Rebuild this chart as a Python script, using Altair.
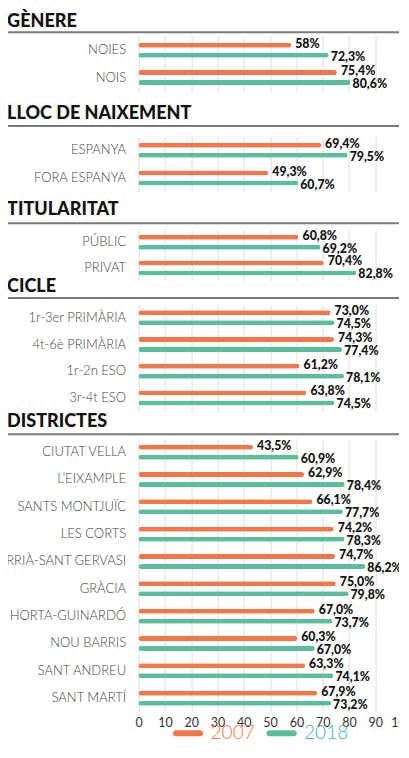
import altair as alt
import pandas as pd

ORANGE = "#F2784B"
GREEN = "#5BBE9B"
LEG_GREEN = "#3FB3A0"

years = ["2007", "2018"]
x_ticks = list(range(0, 101, 10))

sec_titles = ["GÈNERE", "LLOC DE NAIXEMENT", "TITULARITAT", "CICLE", "DISTRICTES"]

genere_cats = ["NOIES", "NOIS"]
genere_2007 = [58.0, 75.4]
genere_2018 = [72.3, 80.6]

lloc_cats = ["ESPANYA", "FORA ESPANYA"]
lloc_2007 = [69.4, 49.3]
lloc_2018 = [79.5, 60.7]

tit_cats = ["PÚBLIC", "PRIVAT"]
tit_2007 = [60.8, 70.4]
tit_2018 = [69.2, 82.8]

cicle_cats = ["1r-3er PRIMÀRIA", "4t-6è PRIMÀRIA", "1r-2n ESO", "3r-4t ESO"]
cicle_2007 = [73.0, 74.3, 61.2, 63.8]
cicle_2018 = [74.5, 77.4, 78.1, 74.5]

dist_cats = ["CIUTAT VELLA", "L’EIXAMPLE", "SANTS MONTJUÏC", "LES CORTS",
             "SARRIÀ-SANT GERVASI", "GRÀCIA", "HORTA-GUINARDÓ", "NOU BARRIS",
             "SANT ANDREU", "SANT MARTÍ"]
dist_2007 = [43.5, 62.9, 66.1, 74.2, 74.7, 75.0, 67.0, 60.3, 63.3, 67.9]
dist_2018 = [60.9, 78.4, 77.7, 78.3, 86.2, 79.8, 73.7, 67.0, 74.1, 73.2]

# label written without decimals in the original
label_overrides = {("NOIES", "2007"): "58%"}


def fmt(cat, year, v):
    if (cat, year) in label_overrides:
        return label_overrides[(cat, year)]
    return f"{v:.1f}".replace(".", ",") + "%"


color_scale = alt.Scale(domain=years, range=[ORANGE, GREEN])
legend = alt.Legend(
    title=None, orient="none", direction="horizontal",
    legendX=34, legendY=681,
    symbolType="M-0.8,-0.2L0.8,-0.2A0.2,0.2 0 0 1 0.8,0.2L-0.8,0.2A0.2,0.2 0 0 1 -0.8,-0.2Z",
    symbolSize=925, symbolStrokeWidth=0, symbolOpacity=1,
    labelFont="Lato", labelFontSize=19, labelFontWeight=300,
    labelColor=alt.ExprRef("datum.label == '2007' ? '%s' : '%s'" % (ORANGE, LEG_GREEN)),
    labelOffset=7, columnPadding=10.5, padding=0,
)


def panel(title, cats, v07, v18, step, rule_gap, title_off, extra_below, show_axis):
    rows = []
    for c, a, b in zip(cats, v07, v18):
        rows.append({"cat": c, "year": "2007", "v": a, "lab": fmt(c, "2007", a)})
        rows.append({"cat": c, "year": "2018", "v": b, "lab": fmt(c, "2018", b)})
    df = pd.DataFrame(rows)
    n = len(cats)
    H = n * step
    pi = 1 - 20.0 / step
    yscale = alt.Scale(domain=cats, paddingInner=pi, paddingOuter=pi / 2)
    xscale = alt.Scale(domain=[0, 100], nice=False)
    yaxis = alt.Axis(title=None, ticks=False, domain=False, labelPadding=13,
                     labelFont="Lato", labelFontSize=13, labelFontWeight=300,
                     labelColor="#444444", labelLimit=300)
    if show_axis:
        xaxis = alt.Axis(values=x_ticks, title=None, ticks=False, domain=False,
                         grid=True, gridColor="#dddddd", labelFont="Lato",
                         labelFontSize=12.5, labelColor="#333333", labelPadding=5,
                         labelFlush=False, labelOverlap=False, labelSeparation=0)
    else:
        xaxis = alt.Axis(values=x_ticks, title=None, ticks=False, domain=False,
                         labels=False, grid=True, gridColor="#dddddd")
    yoff = alt.YOffset("year:N", scale=alt.Scale(domain=years, paddingInner=0, paddingOuter=0))
    base = alt.Chart(df)
    bars = base.mark_bar(size=5, cornerRadius=2.5).encode(
        x=alt.X("v:Q", scale=xscale, axis=xaxis),
        y=alt.Y("cat:N", scale=yscale, sort=cats, axis=yaxis),
        yOffset=yoff,
        color=alt.Color("year:N", scale=color_scale, legend=legend),
    )
    txt_kw = dict(align="left", baseline="middle", font="Lato", fontWeight=900,
                  fontSize=12.3, color="#111111")
    t07 = base.transform_filter("datum.year == '2007'").mark_text(dx=4, dy=-1.5, **txt_kw).encode(
        x=alt.X("v:Q", axis=xaxis), y=alt.Y("cat:N", sort=cats), yOffset=yoff, text="lab:N")
    t18 = base.transform_filter("datum.year == '2018'").mark_text(dx=2, dy=1.5, **txt_kw).encode(
        x=alt.X("v:Q", axis=xaxis), y=alt.Y("cat:N", sort=cats), yOffset=yoff, text="lab:N")
    one = pd.DataFrame({"k": [0]})
    rule = alt.Chart(one).mark_rule(color="#7a7a7a", strokeWidth=2).encode(
        x=alt.value(-132.4), x2=alt.value(290), y=alt.value(-rule_gap))
    layers = [bars, t07, t18, rule]
    if extra_below > 0:
        pad = alt.Chart(one).mark_rule(opacity=0).encode(
            x=alt.value(0), x2=alt.value(1), y=alt.value(H + extra_below))
        layers.append(pad)
    return alt.layer(*layers).properties(
        width=263, height=H,
        title=alt.Title(title, anchor="start", frame="group", dx=-131.5,
                        offset=title_off, baseline="alphabetic", font="Lato",
                        fontSize=18, fontWeight=900, color="#111111"),
    )


p1 = panel(sec_titles[0], genere_cats, genere_2007, genere_2018, 27.4, 4.3, -13.4, 16.5, False)
p2 = panel(sec_titles[1], lloc_cats, lloc_2007, lloc_2018, 27.7, 10.5, -12.3, 12.2, False)
p3 = panel(sec_titles[2], tit_cats, tit_2007, tit_2018, 25.6, 6.2, -10.3, 0.2, False)
p4 = panel(sec_titles[3], cicle_cats, cicle_2007, cicle_2018, 26.7, 6.4, -12.4, 4.4, False)
p5 = panel(sec_titles[4], dist_cats, dist_2007, dist_2018, 27.33, 4.3, -12.0, 0, True)

chart = alt.vconcat(p1, p2, p3, p4, p5, spacing=-4).properties(
    padding={"left": -18.4, "top": 4.5, "right": -30.6, "bottom": -3}
).configure_view(strokeWidth=0).configure_axisX(labelOverlap=False)

chart.save("out.html", embed_options={"renderer": "svg", "actions": False})
